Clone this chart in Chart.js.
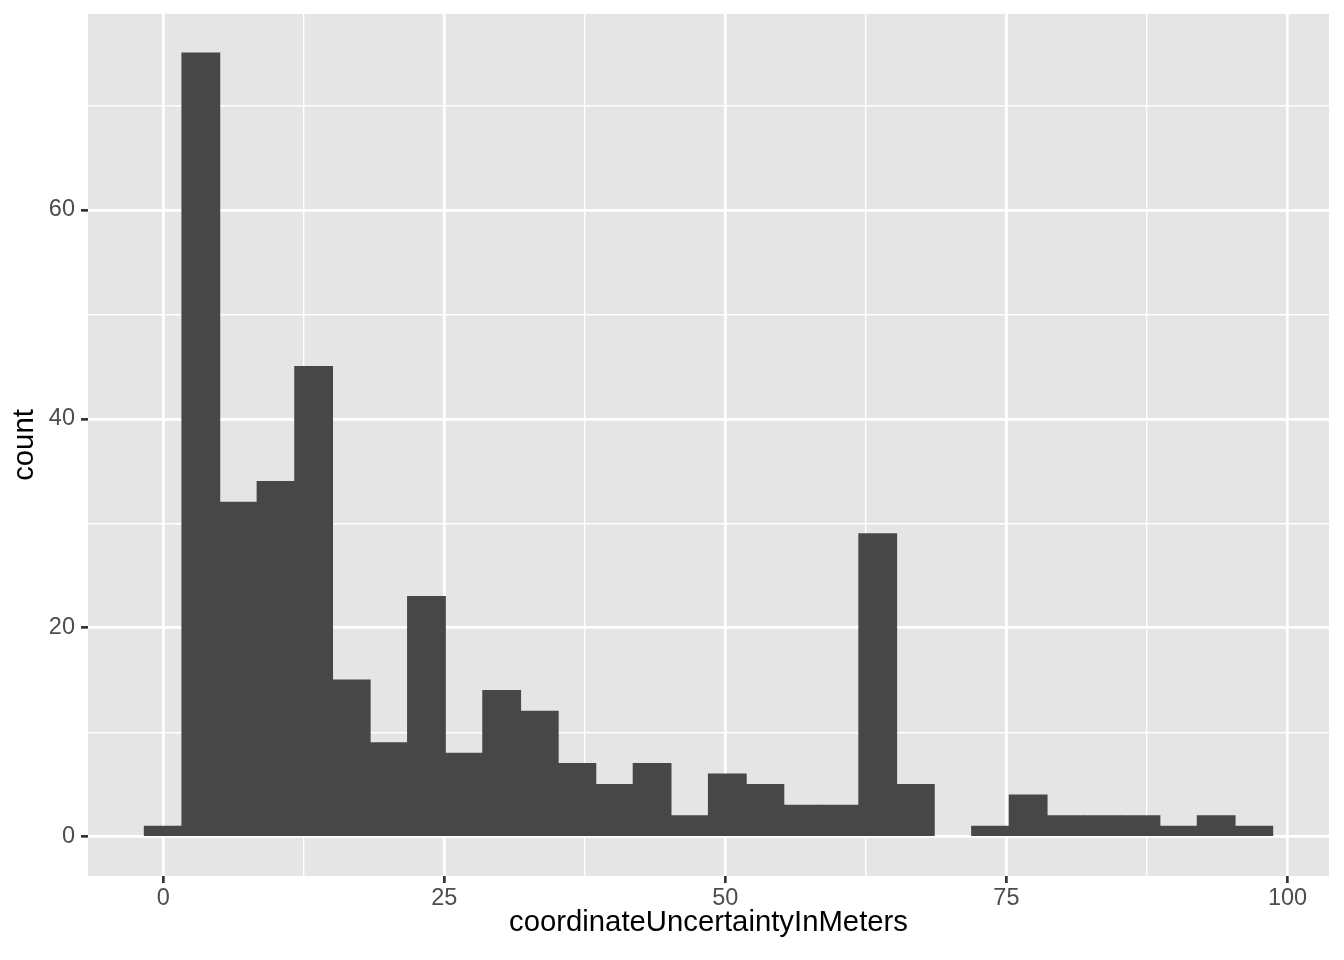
<!DOCTYPE html>
<html>
<head>
<meta charset="utf-8">
<title>coordinateUncertaintyInMeters histogram</title>
<script src="https://cdn.jsdelivr.net/npm/chart.js@4.4.1/dist/chart.umd.min.js"></script>
<style>
  html, body { margin: 0; padding: 0; background: #ffffff; }
  #wrap { width: 1344px; height: 960px; }
</style>
</head>
<body>
<div id="wrap"><canvas id="hist" width="1344" height="960"></canvas></div>
<script>
// Histogram data (30 bins)
const binCenters = [
  0, 3.345, 6.690, 10.034, 13.379, 16.724, 20.069, 23.414, 26.759, 30.103,
  33.448, 36.793, 40.138, 43.483, 46.828, 50.172, 53.517, 56.862, 60.207, 63.552,
  66.897, 70.241, 73.586, 76.931, 80.276, 83.621, 86.966, 90.310, 93.655, 97.000
];
const counts = [
  1, 75, 32, 34, 45, 15, 9, 23, 8, 14,
  12, 7, 5, 7, 2, 6, 5, 3, 3, 29,
  5, 0, 1, 4, 2, 2, 2, 1, 2, 1
];

// Axis ticks
const xMajorTicks = [0, 25, 50, 75, 100];
const xMinorTicks = [12.5, 37.5, 62.5, 87.5];
const yMajorTicks = [0, 20, 40, 60];
const yMinorTicks = [10, 30, 50, 70];

const xLimits = [-6.69, 103.69];
const yLimits = [-3.75, 78.75];

const FONT = '"Liberation Sans", Arial, Helvetica, sans-serif';

// Panel background (ggplot grey)
const panelBackground = {
    id: 'panelBackground',
    beforeDraw(chart) {
        const { ctx, chartArea } = chart;
        ctx.save();
        ctx.fillStyle = '#ffffff';
        ctx.fillRect(0, 0, chart.width, chart.height);
        ctx.fillStyle = '#e5e5e5';
        ctx.fillRect(chartArea.left, chartArea.top,
            chartArea.right - chartArea.left, chartArea.bottom - chartArea.top);
        ctx.restore();
    }
};

function setTicks(major, minor) {
    return function(scale) {
        scale.ticks = major.concat(minor).sort((a, b) => a - b).map(v => ({ value: v }));
    };
}

function gridFor(major) {
    return {
        display: true,
        drawOnChartArea: true,
        drawTicks: true,
        offset: false,
        color: '#ffffff',
        lineWidth: ctx => major.includes(ctx.tick && ctx.tick.value) ? 2.7 : 1.4,
        tickColor: ctx => major.includes(ctx.tick && ctx.tick.value) ? '#333333' : 'rgba(0,0,0,0)',
        tickWidth: 2.7,
        tickLength: 7
    };
}

const ctx = document.getElementById('hist').getContext('2d');
new Chart(ctx, {
    type: 'bar',
    data: {
        datasets: [{
            label: 'count',
            data: binCenters.map((x, i) => ({ x: x, y: counts[i] })),
            backgroundColor: '#474747',
            borderWidth: 0,
            // overlap neighbours slightly so no seams show; empty bins draw nothing
            inflateAmount: c => (c.raw && c.raw.y === 0) ? 0 : 0.6,
            barPercentage: 1.0,
            categoryPercentage: 1.0
        }]
    },
    options: {
        responsive: false,
        animation: false,
        devicePixelRatio: 1,
        layout: {
            padding: { top: 14, right: 15, bottom: 0, left: 0 }
        },
        plugins: {
            legend: { display: false },
            tooltip: { enabled: false }
        },
        scales: {
            x: {
                type: 'linear',
                min: xLimits[0],
                max: xLimits[1],
                offset: false,
                border: { display: false },
                grid: gridFor(xMajorTicks),
                afterBuildTicks: setTicks(xMajorTicks, xMinorTicks),
                afterFit: scale => {
                    scale.height = 84;
                    scale.paddingLeft = 0;
                    scale.paddingRight = 0;
                },
                ticks: {
                    autoSkip: false,
                    maxRotation: 0,
                    padding: 1,
                    color: '#4d4d4d',
                    font: { family: FONT, size: 23.5 },
                    callback: v => xMajorTicks.includes(v) ? String(v) : ''
                },
                title: {
                    display: true,
                    text: 'coordinateUncertaintyInMeters',
                    color: '#000000',
                    font: { family: FONT, size: 29.3 },
                    padding: { top: 0, bottom: 20 }
                }
            },
            y: {
                type: 'linear',
                min: yLimits[0],
                max: yLimits[1],
                border: { display: false },
                grid: gridFor(yMajorTicks),
                afterBuildTicks: setTicks(yMajorTicks, yMinorTicks),
                afterFit: scale => {
                    scale.width = 88;
                    scale.paddingTop = 0;
                    scale.paddingBottom = 0;
                },
                ticks: {
                    autoSkip: false,
                    padding: 6,
                    color: '#4d4d4d',
                    font: { family: FONT, size: 23.5 },
                    callback: v => yMajorTicks.includes(v) ? String(v) : ''
                },
                title: {
                    display: true,
                    text: 'count',
                    color: '#000000',
                    font: { family: FONT, size: 29.3 },
                    padding: { top: 7, bottom: 0 }
                }
            }
        }
    },
    plugins: [panelBackground]
});
</script>
</body>
</html>
